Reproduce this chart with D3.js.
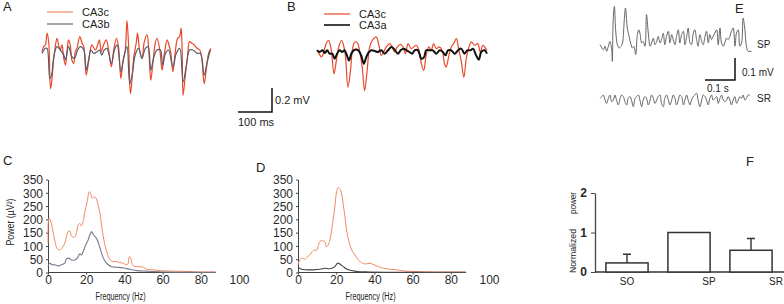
<!DOCTYPE html>
<html>
<head>
<meta charset="utf-8">
<script src="https://cdn.jsdelivr.net/npm/d3@7"></script>
<style>
  body { margin: 0; background: #fff; }
  svg { display: block; font-family: "Liberation Sans", Arial, sans-serif; }
  .axis text { font-size: 12px; fill: #2a2a2a; }
  .axis path, .axis line { stroke: #444; }
</style>
</head>
<body>
<div id="chart"></div>
<script>
// ---- A: CA3c vs CA3b traces (time in ms, voltage in uV)
const aTimeC = [0,5,10,15,20,25,29,34,39,44,49,54,59,64,69,74,78,83,88,93,98,103,111,118,123,130,137,142,147,157,162,169,174,181,189,196,204,211,219,225,232,238,245,250,255,260,265,270,277,281,287,294,301,309,314,320,326,333,338,346,353,360,368,372,379,385,392,399,405,409,412,415,421,428,434,441,448,456,464,470,477,483,490,497];
const aCA3c = [-14,28,42,140,56,-322,-252,-84,28,98,42,0,42,-70,-126,0,84,42,-84,-112,-14,14,112,56,28,-210,-98,0,42,0,28,84,-14,42,84,0,-140,0,98,28,-238,-98,0,246,14,-364,-238,-56,56,140,0,-70,70,126,0,-252,-112,56,98,14,-168,-28,84,56,-28,-182,-14,98,112,182,28,-378,-224,-56,70,56,42,14,0,-70,-280,-168,-28,14];
const aTimeB = [0,10,15,23,29,34,44,54,64,69,78,88,95,105,113,123,130,137,144,152,162,169,176,183,191,204,213,221,232,240,250,258,265,274,284,294,304,312,320,328,338,348,355,363,372,385,395,405,415,424,434,444,456,466,477,485,495];
const aCA3b = [-28,14,14,-238,-196,-70,28,0,-42,-84,28,-56,-70,0,28,0,-168,-84,0,-28,-14,0,-42,0,14,-112,0,42,-182,-70,28,-280,-210,-42,14,-70,14,28,-168,-70,0,0,-126,-28,0,-140,-28,14,-266,-140,0,0,-28,-28,-210,-112,0];

// ---- B: CA3c vs CA3a traces
const bTimeC = [0,6,13,20,27,34,42,50,57,64,72,78,84,91,98,104,111,119,125,133,140,147,155,163,174,182,189,196,204,214,221,228,236,245,253,260,268,277,285,292,300,307,314,321,329,336,343,351,359,368,375,380,388,395,402,410,417,424,432,439,447,454,464,473,480,488,496,500];
const bCA3c = [14,-14,-42,0,70,98,14,-182,-70,42,98,56,-42,-294,-168,14,84,76,14,-126,-322,-168,42,98,126,56,-28,0,42,70,42,0,42,64,42,-14,70,28,42,56,14,-98,-154,-28,42,14,70,28,42,14,-98,-126,-28,42,70,112,14,-70,-210,-56,42,84,56,70,0,56,28,14];
const bTimeA = [0,8,16,23,30,37,45,52,59,67,74,81,88,94,101,108,116,123,130,138,145,153,160,170,179,189,199,209,219,228,238,246,255,263,272,280,287,297,307,315,321,331,341,351,361,370,378,385,395,405,415,424,434,442,451,459,468,476,483,493,500];
const bCA3a = [14,0,14,-8,14,-14,-14,-56,-14,14,0,14,-28,-70,-14,14,20,8,-28,-98,-42,0,14,8,0,14,-14,14,42,20,-14,14,28,14,0,-14,14,14,-56,-42,14,14,14,-14,14,0,-28,14,14,-14,14,28,-14,14,14,28,-28,-64,0,14,-14];

// ---- E: layer recordings
const eTimeSP = [0,6,11,17,22,28,33,39,41,44,48,52,58,64,70,75,81,85,91,97,102,108,113,119,124,129,133,139,144,150,155,161,167,172,178,183,189,194,200,205,211,216,222,228,233,239,244,250,255,261,266,272,278,283,289,294,300,305,311,316,322,327,333,339,344,350,355,361,366,372,377,383,389,394,400,405,411,416,422,427,433,438,444,450,455,461,466,472,477,483,488,494,500,505];
const eSP = [15,0,-8,8,-15,8,30,-8,-61,129,189,83,15,0,8,23,129,182,91,53,23,0,8,-30,53,83,68,23,30,8,152,68,8,23,45,15,30,53,23,38,68,15,53,76,23,61,38,15,53,83,23,61,76,15,53,91,23,15,68,83,38,8,61,30,15,53,76,23,61,38,53,68,83,15,91,23,8,23,45,38,53,76,91,8,68,83,8,23,136,83,8,-15,-15,-15];
const eTimeSR = [0,6,11,17,22,28,33,39,44,50,55,61,67,72,78,83,89,94,100,105,111,117,122,128,133,139,144,150,155,161,167,172,178,183,189,194,200,205,211,216,222,228,233,239,244,250,255,261,266,272,278,283,289,294,300,305,311,316,322,327,333,339,344,350,355,361,366,372,377,383,389,394,400,405,411,416,422,427,433,438,444,450,455,461,466,472,477,483,488,494,500];
const eSR = [3,11,18,-5,-20,3,18,-12,-5,18,-5,-27,3,18,11,-12,-27,3,11,-5,-35,3,11,18,-5,-35,-5,11,3,-27,-5,18,3,-20,-5,11,18,-20,-35,3,18,-5,-27,-5,18,3,-27,-5,18,11,-27,-5,18,-5,-27,-5,11,18,26,-5,-35,-5,18,11,-5,-27,3,18,-5,3,11,-20,3,18,-5,-12,-5,11,-5,-27,-5,11,-20,-5,11,3,18,-5,3,18,18];

// ---- C / D: power spectra (Hz, uV^2)
const cFreqC = [0,0.5,1.2,2.3,3.5,4.7,6.1,7.9,9.3,10.5,11.4,12.3,13.5,14.6,15.8,16.7,17.5,18.4,19.3,20.5,21.6,22.3,23.2,24.2,25.1,26,27.2,28.4,29.6,31,32.5,34.2,36,37.7,39.5,40.9,41.8,42.6,43.3,44.2,45.6,48.2,50,51.8,55.3,58.8,65.8,72.8,79.8,87.7];
const cCA3c = [110,204,198,166,122,91,85,97,122,154,156,137,132,141,179,185,175,191,229,266,304,297,279,285,281,260,222,160,110,72,47,41,41,37,35,29,32,60,54,29,22,22,20,12,10,7,5,4,2,2];
const cFreqB = [0,0.9,2.3,3.5,5.3,7,8.8,9.6,10.9,12.3,14,15.3,16.7,17.5,18.4,19.8,21,21.9,22.8,23.5,24.4,25.4,26.7,28.1,29.5,31.1,33.3,36,39.5,43,46.5,51.8,62.3,72.8,87.7];
const cCA3b = [22,35,29,29,25,29,35,50,54,47,47,54,70,66,79,104,122,141,154,145,137,129,104,72,47,32,22,20,17,12,7,5,2,1,1];
const dFreqC = [0,0.9,2.3,3.5,4.7,6.1,7.5,8.8,9.6,10.5,11.4,12.8,14,14.9,15.8,16.7,18.1,19.3,20.2,21,21.9,22.8,23.7,24.6,25.4,26.7,28.1,29.8,31.6,33.3,35.1,37.7,39.8,42.1,44.7,48.2,51.8,55.3,60.5,71,87.7];
const dCA3c = [29,47,54,50,57,66,79,85,82,97,116,120,116,97,104,122,185,247,304,320,316,297,254,210,160,116,85,66,47,37,32,35,29,22,16,12,10,6,4,2,2];
const dFreqA = [0,1.8,4.4,7.9,11.4,14,16.7,19.3,20.7,21.9,23.7,26.3,30.7,37.7,87.7];
const dCA3a = [20,12,10,10,12,16,14,22,35,32,22,10,4,2,1];
const freqTicks = [0,20,40,60,80,100];
const powerTicks = [0,50,100,150,200,250,300,350];

// ---- F: normalized power by layer
const layers = ['SO','SP','SR'];
const normPower = [0.23,1.0,0.55];
const normErr = [0.22,0,0.30];

const W = 784, H = 304;
const svg = d3.select('#chart').append('svg').attr('width', W).attr('height', H);

const red = '#e8472a', redLight = '#f08a64';

function trace(xs, ys, t, v, color, width) {
  svg.append('path')
    .datum(d3.zip(t, v))
    .attr('fill', 'none')
    .attr('stroke', color)
    .attr('stroke-width', width)
    .attr('stroke-linejoin', 'round')
    .attr('d', d3.line().curve(d3.curveCatmullRom.alpha(0.5)).x(d => xs(d[0])).y(d => ys(d[1])));
}

function label(x, y, txt, size, opts = {}) {
  const t = svg.append('text').attr('x', x).attr('y', y).text(txt)
    .attr('font-size', size).attr('fill', opts.fill || '#222')
    .attr('text-anchor', opts.anchor || 'start');
  if (opts.len) t.attr('textLength', opts.len).attr('lengthAdjust', 'spacingAndGlyphs');
  if (opts.rotate) t.attr('transform', `rotate(-90,${x},${y})`);
  return t;
}

function legend(x, y, color, width, txt) {
  svg.append('line').attr('x1', x).attr('x2', x + 26).attr('y1', y).attr('y2', y)
    .attr('stroke', color).attr('stroke-width', width);
  label(x + 35, y + 4, txt, 11);
}

// panel letters
label(3, 11, 'A', 13);
label(287, 11, 'B', 13);
label(735, 13, 'E', 13);
label(3, 165, 'C', 13);
label(256, 172, 'D', 13);
label(746, 166, 'F', 13);

// ---- A
const xA = d3.scaleLinear().domain([0, 100]).range([42, 76]);
const yA = d3.scaleLinear().domain([0, 200]).range([50, 26]);
trace(xA, yA, aTimeC, aCA3c, red, 1.2);
trace(xA, yA, aTimeB, aCA3b, '#5a5a68', 1.2);
legend(47, 12, redLight, 1.2, 'CA3c');
legend(47, 24, '#6a6a76', 1.2, 'CA3b');

// ---- B
const xB = d3.scaleLinear().domain([0, 100]).range([317, 351]);
const yB = d3.scaleLinear().domain([0, 200]).range([52, 28]);
trace(xB, yB, bTimeC, bCA3c, red, 1.2);
trace(xB, yB, bTimeA, bCA3a, '#111', 2);
legend(324, 14, red, 1.2, 'CA3c');
legend(324, 25, '#111', 1.6, 'CA3a');

// scale bar for A/B
const sbx = d3.scaleLinear().domain([0, 100]).range([238, 272]);
const sby = d3.scaleLinear().domain([0, 200]).range([112, 88]);
svg.append('path').attr('fill', 'none').attr('stroke', '#111').attr('stroke-width', 1.5)
  .attr('d', `M${sbx(0)},${sby(0)}H${sbx(100)}V${sby(200)}`);
label(275, 104, '0.2 mV', 11);
label(238, 126, '100 ms', 11);

// ---- E
const xE = d3.scaleLinear().domain([0, 100]).range([600, 630]);
const ySP = d3.scaleLinear().domain([0, 100]).range([48, 26]);
const ySR = d3.scaleLinear().domain([0, 100]).range([99, 77]);
trace(xE, ySP, eTimeSP, eSP, '#666', 1);
trace(xE, ySR, eTimeSR, eSR, '#666', 1);
label(757, 48, 'SP', 10);
label(757, 102, 'SR', 10);
const sbxE = d3.scaleLinear().domain([0, 100]).range([705, 735]);
const sbyE = d3.scaleLinear().domain([0, 100]).range([80, 58]);
svg.append('path').attr('fill', 'none').attr('stroke', '#111').attr('stroke-width', 1.5)
  .attr('d', `M${sbxE(0)},${sbyE(0)}H${sbxE(100)}V${sbyE(100)}`);
label(742, 76, '0.1 mV', 10);
label(707, 92, '0.1 s', 10);

// ---- C / D spectra
function spectrum(x0, showY) {
  const x = d3.scaleLinear().domain([0, 100]).range([x0, x0 + 191]);
  const y = d3.scaleLinear().domain([0, 350]).range([272.5, 179.5]);
  const gx = svg.append('g').attr('class', 'axis').attr('transform', `translate(0,${y(0)})`)
    .call(d3.axisBottom(x).tickValues(freqTicks).tickSize(2).tickSizeOuter(0).tickPadding(1));
  gx.select('.domain').attr('d', `M${x(0)},0H${x(88)}`);
  gx.selectAll('.tick line').filter(d => d > 88).remove();
  const gy = svg.append('g').attr('class', 'axis').attr('transform', `translate(${x(0)},0)`)
    .call(d3.axisLeft(y).tickValues(powerTicks).tickSize(2).tickSizeOuter(0).tickPadding(3));
  gy.selectAll('text').attr('dy', '0.36em');
  label(x(38), 300, 'Frequency (Hz)', 10, { anchor: 'middle', len: 50 });
  if (showY) label(14, 222, 'Power (\u00b5V\u00b2)', 10, { anchor: 'middle', len: 47, rotate: true });
  return { x, y };
}
const sc = spectrum(48, true);
trace(sc.x, sc.y, cFreqC, cCA3c, redLight, 1);
trace(sc.x, sc.y, cFreqB, cCA3b, '#77778a', 1.1);
const sd = spectrum(298, false);
trace(sd.x, sd.y, dFreqC, dCA3c, redLight, 1);
trace(sd.x, sd.y, dFreqA, dCA3a, '#444', 1.1);

// ---- F bars
const xF = d3.scaleBand().domain(layers).range([596, 782]).paddingInner(0.32).paddingOuter(0.16);
const yF = d3.scaleLinear().domain([0, 2]).range([272, 193]);
const gyF = svg.append('g').attr('class', 'axis').attr('transform', 'translate(595,0)')
  .call(d3.axisLeft(yF).tickValues([0, 1, 2]).tickFormat(d3.format('d')).tickSize(4).tickSizeOuter(0).tickPadding(4));
gyF.selectAll('text').attr('font-weight', 'bold').attr('fill', '#333');
gyF.select('.domain').attr('stroke-width', 1.3);
svg.append('line').attr('x1', 595).attr('x2', W).attr('y1', yF(0)).attr('y2', yF(0))
  .attr('stroke', '#333').attr('stroke-width', 1.3);
svg.selectAll('.err').data(layers).join('path').attr('class', 'err')
  .attr('fill', 'none').attr('stroke', '#333').attr('stroke-width', 1.4)
  .attr('d', (d, i) => {
    const cx = xF(d) + xF.bandwidth() / 2;
    return normErr[i] > 0 ? `M${cx},${yF(normPower[i])}V${yF(normPower[i] + normErr[i])}M${cx - 4},${yF(normPower[i] + normErr[i])}H${cx + 4}` : '';
  });
svg.selectAll('.bar').data(layers).join('rect').attr('class', 'bar')
  .attr('x', d => xF(d)).attr('width', xF.bandwidth())
  .attr('y', (d, i) => yF(normPower[i])).attr('height', (d, i) => yF(0) - yF(normPower[i]))
  .attr('fill', '#fff').attr('stroke', '#333').attr('stroke-width', 1.5);
const labelShift = [0, 20, 25];
layers.forEach((d, i) => label(xF(d) + xF.bandwidth() / 2 + labelShift[i], 285, d, 10, { anchor: 'middle' }));
label(576, 273, 'Normalized', 9, { rotate: true, len: 44 });
label(576, 214, 'power', 9, { rotate: true, len: 22 });
</script>
</body>
</html>
